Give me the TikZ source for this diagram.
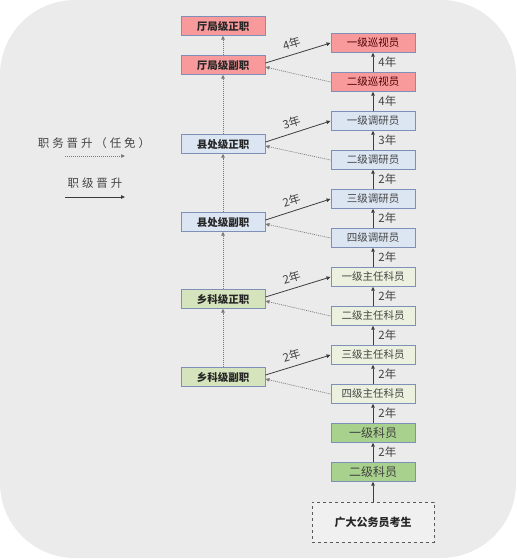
\documentclass[tikz,border=0pt]{standalone}
\usepackage{fontspec}
\setmainfont{Noto Sans CJK SC}
\newfontfamily\legendfont{Noto Sans CJK SC}[LetterSpace=25]
\usetikzlibrary{arrows.meta}
\definecolor{bg}{HTML}{EBEBEB}
\definecolor{bord}{HTML}{7F90B8}
\definecolor{redf}{HTML}{F89A9C}
\definecolor{bluef}{HTML}{DCE6F2}
\definecolor{lgreenf}{HTML}{EBF1DE}
\definecolor{mgreenf}{HTML}{D5E4BC}
\definecolor{dgreenf}{HTML}{A9D18E}
\definecolor{linec}{HTML}{3C3C3C}
\definecolor{dotc}{HTML}{7A7A7A}
\definecolor{txt}{HTML}{444444}
\begin{document}
\begin{tikzpicture}[x=1pt,y=-1pt,
  >={Triangle[length=4pt,width=3.5pt]},
  box/.style={draw=bord, line width=0.9pt, minimum width=84pt, minimum height=18.5pt, inner sep=0pt,
    font=\fontsize{10.5}{12}\selectfont, text=txt},
  lbox/.style={box, font=\fontsize{10.5}{12}\selectfont\bfseries, text=black!85},
  redbox/.style={fill=redf, text=red!30!black},
  bluebox/.style={fill=bluef},
  lgbox/.style={fill=lgreenf},
  mgbox/.style={fill=mgreenf},
  dgbox/.style={fill=dgreenf, font=\fontsize{12}{14}\selectfont, text=black!75},
  solidarr/.style={->, draw=linec, line width=0.8pt},
  dotarr/.style={->, draw=dotc, line width=0.7pt, dash pattern=on 1pt off 1pt},
  yr/.style={right, font=\fontsize{11.5}{12}\selectfont, text=txt, inner sep=1pt, xshift=4pt},
  dy/.style={pos=0.45, above=4pt, sloped, font=\fontsize{11.5}{12}\selectfont, text=txt, inner sep=1pt},
  legtext/.style={font=\fontsize{11.5}{13}\selectfont\legendfont, text=txt}
]
\useasboundingbox (0,0) rectangle (517,560);
\fill[bg, rounded corners=75pt] (0,0) rectangle (516,558);

% left column
\node[lbox, redbox, text=black!85] (L1) at (223,26) {厅局级正职};
\node[lbox, redbox, text=black!85] (L2) at (223,65) {厅局级副职};
\node[lbox, bluebox, text=black!85] (L3) at (223,144) {县处级正职};
\node[lbox, bluebox, text=black!85] (L4) at (223,222) {县处级副职};
\node[lbox, mgbox, text=black!85] (L5) at (223,299) {乡科级正职};
\node[lbox, mgbox, text=black!85] (L6) at (223,377) {乡科级副职};

% right column
\node[box, redbox] (R1) at (373,43) {一级巡视员};
\node[box, redbox] (R2) at (373,82) {二级巡视员};
\node[box, bluebox] (R3) at (373,121) {一级调研员};
\node[box, bluebox] (R4) at (373,160) {二级调研员};
\node[box, bluebox] (R5) at (373,199) {三级调研员};
\node[box, bluebox] (R6) at (373,238) {四级调研员};
\node[box, lgbox] (R7) at (373,277) {一级主任科员};
\node[box, lgbox] (R8) at (373,316) {二级主任科员};
\node[box, lgbox] (R9) at (373,355) {三级主任科员};
\node[box, lgbox] (R10) at (373,394) {四级主任科员};
\node[box, dgbox] (R11) at (373,433) {一级科员};
\node[box, dgbox] (R12) at (373,472) {二级科员};

\node[draw=black!65, dashed, line width=1pt, fill=black!6, minimum width=122pt, minimum height=40pt,
  font=\fontsize{11}{12}\selectfont\bfseries, text=black!85] (S) at (373,522) {广大公务员考生};

% left vertical dotted
\draw[dotarr] (L2) -- (L1);
\draw[dotarr] (L3) -- (L2);
\draw[dotarr] (L4) -- (L3);
\draw[dotarr] (L5) -- (L4);
\draw[dotarr] (L6) -- (L5);

% right vertical solid
\draw[solidarr] (R2) -- node[yr]{4年} (R1);
\draw[solidarr] (R3) -- node[yr]{4年} (R2);
\draw[solidarr] (R4) -- node[yr]{3年} (R3);
\draw[solidarr] (R5) -- node[yr]{2年} (R4);
\draw[solidarr] (R6) -- node[yr]{2年} (R5);
\draw[solidarr] (R7) -- node[yr]{2年} (R6);
\draw[solidarr] (R8) -- node[yr]{2年} (R7);
\draw[solidarr] (R9) -- node[yr]{2年} (R8);
\draw[solidarr] (R10) -- node[yr]{2年} (R9);
\draw[solidarr] (R11) -- node[yr]{2年} (R10);
\draw[solidarr] (R12) -- node[yr]{2年} (R11);
\draw[solidarr] (S) -- (R12);

% diagonals
\draw[solidarr] ([yshift=2pt]L2.east) -- node[dy]{4年} (R1.west);
\draw[dotarr] (R2.west) -- ([yshift=-2pt]L2.east);
\draw[solidarr] ([yshift=2pt]L3.east) -- node[dy]{3年} (R3.west);
\draw[dotarr] (R4.west) -- ([yshift=-2pt]L3.east);
\draw[solidarr] ([yshift=2pt]L4.east) -- node[dy]{2年} (R5.west);
\draw[dotarr] (R6.west) -- ([yshift=-2pt]L4.east);
\draw[solidarr] ([yshift=2pt]L5.east) -- node[dy]{2年} (R7.west);
\draw[dotarr] (R8.west) -- ([yshift=-2pt]L5.east);
\draw[solidarr] ([yshift=2pt]L6.east) -- node[dy]{2年} (R9.west);
\draw[dotarr] (R10.west) -- ([yshift=-2pt]L6.east);

% legend
\node[legtext] (T1) at (94,143) {职务晋升（任免）};
\coordinate (a1) at (65,156);
\coordinate (b1) at (125,156);
\draw[dotarr] (a1) -- (b1);
\node[legtext] (T2) at (95,183) {职级晋升};
\coordinate (a2) at (65,197);
\coordinate (b2) at (125,197);
\draw[solidarr] (a2) -- (b2);
\end{tikzpicture}
\end{document}
